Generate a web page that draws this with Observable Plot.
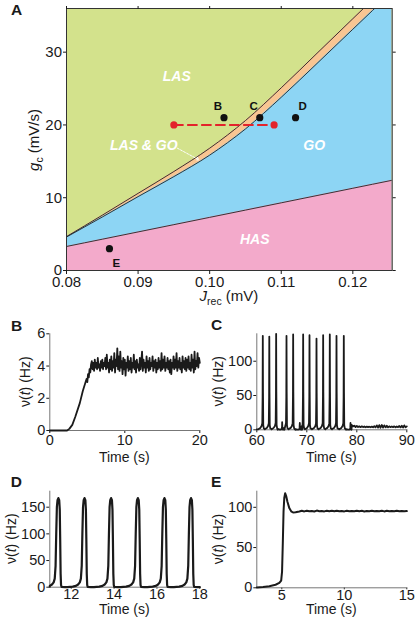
<!DOCTYPE html>
<html><head><meta charset="utf-8">
<script src="https://cdn.jsdelivr.net/npm/d3@7"></script>
<script src="https://cdn.jsdelivr.net/npm/@observablehq/plot@0.6"></script>
<style>
html,body{margin:0;padding:0;background:#fff;}
#wrap{position:relative;width:417px;height:624px;overflow:hidden;background:#fff;font-family:"Liberation Sans",Arial,sans-serif;}
#wrap svg{position:absolute;max-width:none;}
</style></head>
<body><div id="wrap"></div>
<script>
// ---------- Panel A : phase diagram ----------
const jrecGrid   = [0.080, 0.085, 0.090, 0.095, 0.100, 0.105, 0.110, 0.115, 0.120, 0.1255];
const gcLasEdge  = [4.66, 7.6, 10.6, 13.6, 16.8, 20.6, 25.1, 29.85, 34.6, 39.8];
const gcGoEdge   = [4.6, 7.35, 10.15, 12.9, 15.85, 19.45, 23.8, 28.45, 33.15, 38.3];
const gcHasEdge  = [3.3, 4.3, 5.3, 6.3, 7.3, 8.3, 9.3, 10.3, 11.3, 12.4];
const regionNames = ["LAS", "GO", "HAS", "LAS & GO"];
const regionJ     = [0.0954, 0.1146, 0.1063, 0.0908];
const regionG     = [26.6, 17.2, 4.3, 17.2];
const pointNames = ["B", "C", "D", "E"];
const pointJ     = [0.102, 0.107, 0.112, 0.086];
const pointG     = [21, 21, 21, 3];
const sweepJ = [0.095, 0.109];
const sweepG = [20, 20];
const arrowJ = [0.0955, 0.0985];
const arrowG = [16.8, 15.2];
const xTicksA = [0.08, 0.09, 0.10, 0.11, 0.12];
const yTicksA = [0, 10, 20, 30];

// ---------- Panel B ----------
const bRiseTime = [0, 2.3, 2.6, 3.0, 3.4, 4.0, 4.4, 4.7, 4.9, 5.0, 5.1, 5.2, 5.3, 5.4, 5.5];
const bRiseRate = [0, 0, 0.1, 0.35, 0.85, 1.7, 2.45, 2.9, 3.2, 3.0, 3.5, 3.3, 3.8, 3.6, 4.1];
const bNoiseStart = 5.6, bNoiseStep = 0.1;
const bNoiseRate = [
  4.3,3.8,4.2,3.7,
  4.4,3.9,4.2,3.8,4.5,3.9,4.1,3.7,4.3,3.9,
  4.4,3.8,4.2,4.0,4.5,3.8,4.7,3.9,4.2,3.6,
  4.4,3.8,4.6,3.7,4.3,3.9,4.8,3.6,4.4,4.0,
  5.1,3.8,4.6,3.7,4.9,3.9,4.3,3.5,4.5,3.8,
  4.4,3.4,4.2,3.9,4.6,3.7,4.3,3.8,4.5,3.6,
  4.2,3.9,4.7,3.8,4.3,3.6,4.4,3.9,4.1,3.7,
  4.5,3.8,4.3,4.9,3.7,4.4,3.9,4.2,3.6,4.6,
  3.9,4.3,3.7,4.5,3.8,4.2,4.0,4.6,3.7,4.3,
  3.9,4.4,3.6,4.2,3.8,4.5,3.9,4.3,3.7,4.8,
  3.8,4.4,3.9,4.6,3.7,4.2,3.9,4.5,3.8,4.3,
  3.6,4.4,3.5,4.2,3.9,4.6,3.8,4.4,3.9,4.8,
  3.7,4.3,3.9,4.5,3.8,4.2,3.6,4.6,3.9,4.3,
  3.8,4.5,3.7,4.4,3.9,4.6,3.8,4.2,3.7,4.7,
  3.9,4.4,3.6,4.9,3.8,4.3,4.0,4.8,3.9,4.5,
  4.2];
const xTicksB = [0, 10, 20], yTicksB = [0, 2, 4, 6];

// ---------- Panel C ----------
const cStart = [60, 0.5];
const cSpikeTime = [61.2, 62.5, 63.87, 65.94, 67.27, 69.27, 70.54, 71.94, 73.27, 74.6, 75.94, 77.4];
const cSpikeRate = [137, 136, 140, 137, 139, 139, 138, 133, 138, 139, 137, 137];
const cBumpTime = [65.07, 68.6, 78.74];
const cBumpRate = [11, 10, 10];
const cShapeDt   = [-0.9, -0.5, -0.25, -0.1, -0.04, 0, 0.04, 0.09, 0.2, 0.45];
const cShapeFrac = [0.005, 0.02, 0.04, 0.07, 0.35, 1, 0.4, 0.05, 0.015, 0.008];
const cTailStart = 79, cTailStep = 0.25;
const cTailRate = [7,5,6,4, 5.5,4,5,3.8, 5,4,4.8,3.6, 4.6,3.8,4.5,3.7, 4.6,3.6,5.2,3.5,
  6.5,3.2,6.8,3.0, 7,3.2,6.5,3.5, 6,3.6,5.0,3.8, 4.8,3.9,5.0,3.6, 4.8,3.8,5.5,3.5, 5.8,3.3,6.5,3.5, 5];
const xTicksC = [60, 70, 80, 90], yTicksC = [0, 50, 100];

// ---------- Panel D ----------
const dSpikeTime = [11.40, 12.62, 13.86, 15.11, 16.35, 17.59];
const dShapeDt   = [-0.8, -0.55, -0.4, -0.3, -0.22, -0.17, -0.13, -0.1, -0.07, -0.04, 0, 0.04, 0.065, 0.085, 0.105, 0.125, 0.15, 0.3, 0.43];
const dShapeRate = [0.3, 1, 2.5, 5, 9, 16, 40, 100, 150, 163, 167, 163, 145, 90, 25, 4, 0.5, 0, 0];
const dStart = [11, 0.8], dEnd = [18, 0];
const xTicksD = [12, 14, 16, 18], yTicksD = [0, 50, 100, 150];

// ---------- Panel E ----------
const eRiseTime = [3, 3.5, 4, 4.5, 4.8, 4.95, 5.02, 5.08, 5.14, 5.2, 5.27, 5.35, 5.45, 5.6, 5.75, 5.9, 6.1, 6.4];
const eRiseRate = [0.5, 1, 2, 3.8, 6, 9, 20, 55, 95, 112, 117.5, 114, 107, 99, 95, 93.5, 93.8, 94.8];
const eTailStart = 6.6, eTailStep = 0.2;
const eTailRate = [95.6,94.9,95.8,95.1,95.5,94.8,95.9,95.2,95.4,94.9,95.7,95.1,95.6,95.0,95.8,95.2,95.5,94.9,95.7,95.1,
  95.4,95.0,95.8,95.2,95.6,94.9,95.5,95.1,95.7,95.0,95.4,95.2,95.8,94.9,95.6,95.1,95.5,95.0,95.7,95.2,95.4,95.1,95.3];
const xTicksE = [5, 10, 15], yTicksE = [0, 50, 100];

// ---------- build tables ----------
const curveA = jrecGrid.map((j, i) => ({j, las: gcLasEdge[i], go: gcGoEdge[i], has: gcHasEdge[i]}));
const regions = regionNames.map((n, i) => ({n, j: regionJ[i], g: regionG[i]}));
const points = pointNames.map((n, i) => ({n, j: pointJ[i], g: pointG[i]}));
const sweep = sweepJ.map((j, i) => ({j, g: sweepG[i]}));
const arrow = [{x1: arrowJ[0], y1: arrowG[0], x2: arrowJ[1], y2: arrowG[1]}];

const seriesB = bRiseTime.map((t, i) => ({t, v: bRiseRate[i]}))
  .concat(bNoiseRate.map((v, i) => ({t: bNoiseStart + i * bNoiseStep, v})));

let seriesC = [{t: cStart[0], v: cStart[1]}];
cSpikeTime.forEach((t0, k) => cShapeDt.forEach((dt, i) => seriesC.push({t: t0 + dt, v: cShapeFrac[i] * cSpikeRate[k]})));
cBumpTime.forEach((t0, k) => cShapeDt.forEach((dt, i) => seriesC.push({t: t0 + dt, v: cShapeFrac[i] * cBumpRate[k]})));
seriesC = seriesC.filter(d => d.t < cTailStart);
cTailRate.forEach((v, i) => seriesC.push({t: cTailStart + i * cTailStep, v}));
seriesC.sort((a, b) => a.t - b.t);

let seriesD = [{t: dStart[0], v: dStart[1]}];
dSpikeTime.forEach(t0 => dShapeDt.forEach((dt, i) => seriesD.push({t: t0 + dt, v: dShapeRate[i]})));
seriesD = seriesD.filter(d => d.t >= 11 && d.t <= 18);
seriesD.push({t: dEnd[0], v: dEnd[1]});
seriesD.sort((a, b) => a.t - b.t);

const seriesE = eRiseTime.map((t, i) => ({t, v: eRiseRate[i]}))
  .concat(eTailRate.map((v, i) => ({t: eTailStart + i * eTailStep, v})));

// ---------- styles ----------
const FONT = "Liberation Sans, Arial, sans-serif";
const INK = "#1a1a1a";
const intFmt = d => String(d);
const wrap = document.getElementById("wrap");
function place(svg, left, top) { svg.style.left = left + "px"; svg.style.top = top + "px"; wrap.appendChild(svg); }

// ---------- Panel A ----------
const green = "#d3e28c", orange = "#f9c592", blue = "#8dd5f4", pink = "#f3aacb";
const plotA = Plot.plot({
  width: 417, height: 305, marginLeft: 66, marginRight: 25.3, marginTop: 8, marginBottom: 35,
  x: {domain: [0.08, 0.1255], label: null},
  y: {domain: [0, 36], label: null},
  style: {fontFamily: FONT, fontSize: "15px", color: INK, background: "transparent", overflow: "visible"},
  marks: [
    Plot.frame({fill: green}),
    Plot.areaY(curveA, {x: "j", y: "las", fill: orange, curve: "monotone-x", clip: true}),
    Plot.areaY(curveA, {x: "j", y: "go", fill: blue, curve: "monotone-x", clip: true}),
    Plot.areaY(curveA, {x: "j", y: "has", fill: pink, curve: "monotone-x", clip: true}),
    Plot.line(curveA, {x: "j", y: "las", stroke: "#222", strokeWidth: 0.9, curve: "monotone-x", clip: true}),
    Plot.line(curveA, {x: "j", y: "go", stroke: "#222", strokeWidth: 0.9, curve: "monotone-x", clip: true}),
    Plot.line(curveA, {x: "j", y: "has", stroke: "#222", strokeWidth: 0.9, curve: "monotone-x", clip: true}),
    Plot.text(regions, {x: "j", y: "g", text: "n", fill: "white", fontWeight: "bold", fontStyle: "italic", fontSize: 14}),
    Plot.arrow(arrow, {x1: "x1", y1: "y1", x2: "x2", y2: "y2", stroke: "white", strokeWidth: 1, strokeDasharray: "2,1.5", headLength: 5}),
    Plot.line(sweep, {x: "j", y: "g", stroke: "#e3232b", strokeWidth: 2, strokeDasharray: "9,5"}),
    Plot.dot(sweep, {x: "j", y: "g", r: 3.6, fill: "#e3232b"}),
    Plot.dot(points, {x: "j", y: "g", r: 3.6, fill: "#111"}),
    Plot.text(points, {filter: d => d.n === "B" || d.n === "C", x: "j", y: "g", text: "n", dx: -6, dy: -11, fontWeight: "bold", fontSize: 11.5, fill: "#111"}),
    Plot.text(points, {filter: d => d.n === "D", x: "j", y: "g", text: "n", dx: 7, dy: -11, fontWeight: "bold", fontSize: 11.5, fill: "#111"}),
    Plot.text(points, {filter: d => d.n === "E", x: "j", y: "g", text: "n", dx: 7, dy: 14.5, fontWeight: "bold", fontSize: 11.5, fill: "#111"}),
    Plot.frame({stroke: "#333", strokeWidth: 1}),
    Plot.axisX({anchor: "bottom", ticks: xTicksA, tickFormat: d3.format(".2f"), tickSize: 4, tickPadding: 2}),
    Plot.axisX({anchor: "top", ticks: xTicksA, tickFormat: () => "", tickSize: 3}),
    Plot.axisY({anchor: "left", ticks: yTicksA, tickFormat: intFmt, tickSize: 3, tickPadding: 1.5}),
    Plot.axisY({anchor: "right", ticks: yTicksA, tickFormat: () => "", tickSize: 3})
  ]
});
place(plotA, 0, 0);

// ---------- time-series panels ----------
function tracePanel(o) {
  return Plot.plot({
    width: 210, height: o.height, marginLeft: 49.3, marginRight: 10.7, marginTop: o.mt, marginBottom: o.mb,
    x: {domain: o.xd, ticks: o.xt, tickFormat: intFmt, tickSize: o.xts, tickPadding: o.xtp, label: null},
    y: {domain: o.yd, ticks: o.yt, tickFormat: intFmt, tickSize: 3, tickPadding: 1.5, label: null},
    style: {fontFamily: FONT, fontSize: "14.5px", color: INK, background: "transparent", overflow: "visible"},
    marks: [
      Plot.ruleX([o.xd[0]], {stroke: "#777", strokeWidth: 1}),
      Plot.ruleY([0], {stroke: "#777", strokeWidth: 1}),
      Plot.line(o.data, {x: "t", y: "v", stroke: INK, strokeWidth: o.sw, strokeLinejoin: "round"})
    ]
  });
}
place(tracePanel({height: 150, mt: 13.3, mb: 40, xd: [0, 20], xt: xTicksB, xts: 3, xtp: 1.5, yd: [0, 6], yt: yTicksB, data: seriesB, sw: 1.8}), 0, 320);
place(tracePanel({height: 150, mt: 13.3, mb: 40.7, xd: [60, 90], xt: xTicksC, xts: 3, xtp: 1.5, yd: [0, 140], yt: yTicksC, data: seriesC, sw: 1.8}), 207, 320);
place(tracePanel({height: 146, mt: 12.7, mb: 37.3, xd: [11, 18], xt: xTicksD, xts: 2, xtp: 0, yd: [0, 180], yt: yTicksD, data: seriesD, sw: 2.2}), 0, 478);
place(tracePanel({height: 146, mt: 12.7, mb: 36.7, xd: [3, 15], xt: xTicksE, xts: 2, xtp: 0, yd: [0, 120], yt: yTicksE, data: seriesE, sw: 2}), 207, 478);

// ---------- panel letters and axis titles ----------
const NS = "http://www.w3.org/2000/svg";
const ov = document.createElementNS(NS, "svg");
ov.setAttribute("width", 417); ov.setAttribute("height", 624);
ov.setAttribute("font-family", FONT); ov.setAttribute("fill", INK);
ov.style.left = "0px"; ov.style.top = "0px"; ov.style.pointerEvents = "none";
const nu = 'ν(<tspan font-style="italic">t</tspan>) (Hz)';
ov.innerHTML = `
<g font-size="15.5" font-weight="bold">
  <text x="11" y="14.7">A</text>
  <text x="11" y="330.5">B</text>
  <text x="211" y="330.3">C</text>
  <text x="10.7" y="487">D</text>
  <text x="211" y="487">E</text>
</g>
<text transform="translate(38.5,140) rotate(-90)" text-anchor="middle" font-size="15"><tspan font-style="italic">g</tspan><tspan font-size="10.5" dy="4">c</tspan><tspan dy="-4"> (mV/s)</tspan></text>
<text x="229" y="301" text-anchor="middle" font-size="15"><tspan font-style="italic">J</tspan><tspan font-size="10.5" dy="4">rec</tspan><tspan dy="-4"> (mV)</tspan></text>
<g font-size="14" text-anchor="middle">
  <text transform="translate(30.3,381.7) rotate(-90)">${nu}</text>
  <text transform="translate(223,381.3) rotate(-90)">${nu}</text>
  <text transform="translate(16,538.7) rotate(-90)">${nu}</text>
  <text transform="translate(223,539) rotate(-90)">${nu}</text>
  <text x="124.3" y="461.5">Time (s)</text>
  <text x="331.3" y="461.5">Time (s)</text>
  <text x="124.3" y="614">Time (s)</text>
  <text x="331.3" y="614">Time (s)</text>
</g>`;
wrap.appendChild(ov);
</script>
</body></html>
